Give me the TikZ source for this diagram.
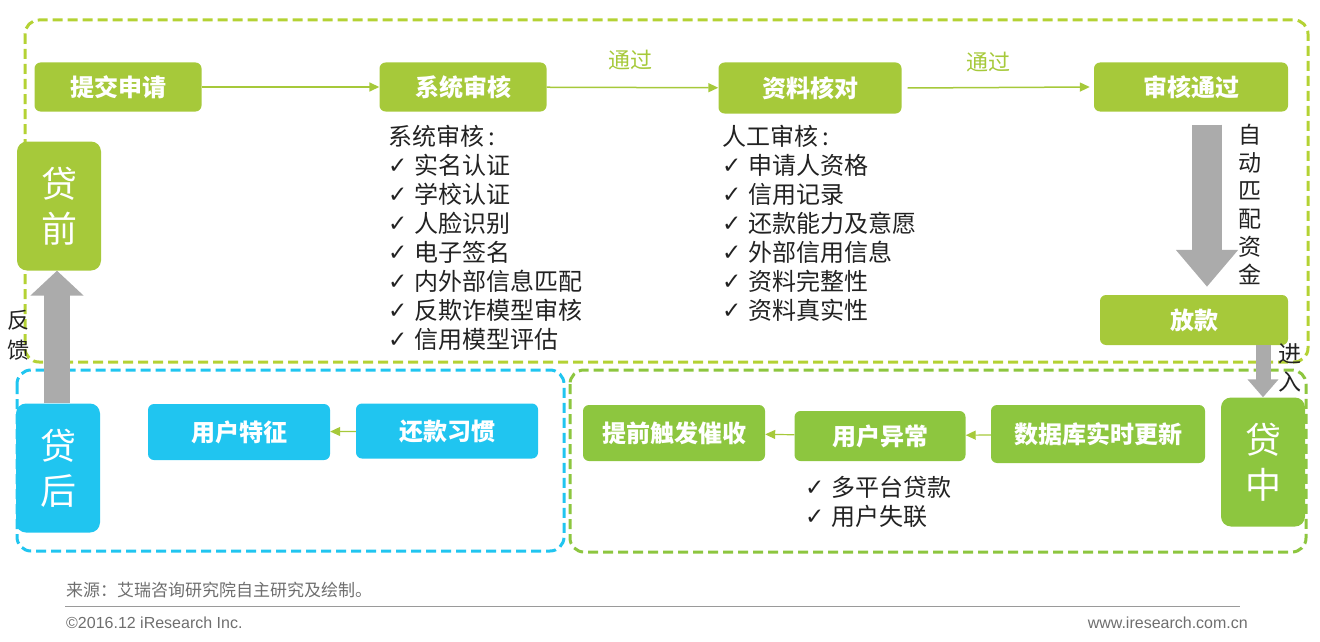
\documentclass[tikz,border=0pt]{standalone}
\usepackage{fontspec}
\setmainfont{Noto Sans CJK SC}
\newfontfamily\latinfont{Liberation Sans}
\newfontfamily\symfont{DejaVu Sans}
\usetikzlibrary{arrows.meta,calc}
\definecolor{lime}{RGB}{166,201,58}
\definecolor{limeframe}{RGB}{180,210,52}
\definecolor{grass}{RGB}{141,198,63}
\definecolor{sky}{RGB}{32,197,240}
\definecolor{ink}{RGB}{34,34,34}
\definecolor{shade}{RGB}{171,171,171}
\definecolor{foot}{RGB}{110,110,110}
\newcommand{\chk}{{\symfont\fontsize{23}{23}\selectfont\raisebox{1pt}{✓}}\hspace{7pt}}

\begin{document}
\begin{tikzpicture}[x=1pt,y=-1pt,>=Stealth]
\tikzset{box/.style={rounded corners=6pt,text=white,font=\bfseries\fontsize{24}{28}\selectfont,inner sep=0pt,minimum height=49pt},
  limebox/.style={box,fill=lime},grassbox/.style={box,fill=grass},skybox/.style={box,fill=sky},
  stage/.style={rounded corners=10pt,text=white,inner sep=0pt,align=center,minimum width=84pt,minimum height=129pt,font=\fontsize{36}{45}\selectfont},
  frame/.style={line width=3pt,dash pattern=on 10pt off 5pt,rounded corners=14pt},
  arr/.style={-{Triangle[length=10pt,width=9pt]},line width=1.5pt,draw=lime},
  bigarr/.style args={#1/#2/#3}{draw=shade,line width=#1,-{Triangle[width=#2,length=#3]}},
  list/.style={anchor=north west,align=left,text=ink,inner sep=0pt,font=\fontsize{24}{29}\selectfont},
  vtext/.style={text=ink,align=center,inner sep=0pt,font=\fontsize{23}{28}\selectfont},
  foottext/.style={text=foot,inner sep=0pt}}
\useasboundingbox (0,0) rectangle (1320,642);
% stage frames
\draw[frame,draw=limeframe] (25,20) rectangle (1308,362);
\draw[frame,draw=sky] (17,370) rectangle (564,551);
\draw[frame,draw=grass] (570,370) rectangle (1306,552);
% before the loan
\node[limebox,minimum width=167pt] (tj) at (118,87) {提交申请};
\node[limebox,minimum width=167pt] (xt) at (463,87) {系统审核};
\node[limebox,minimum width=183pt,minimum height=51pt] (zl) at (810,88) {资料核对};
\node[limebox,minimum width=194pt] (sh) at (1191,87) {审核通过};
\node[limebox,minimum width=188pt,minimum height=50pt] (fk) at (1194,320) {放款};
\node[stage,fill=lime] (dq) at (59,206) {贷\\前};
\draw[arr] (tj)--(xt);
\draw[arr] (xt)--(zl);
\draw[arr] ([xshift=6pt]zl.east)--([xshift=-4pt]sh.west);
\node[text=lime,font=\fontsize{22}{26}\selectfont] (tg1) at (630,60) {通过};
\node[text=lime,font=\fontsize{22}{26}\selectfont] (tg2) at (988,62) {通过};
\node[list] (xtl) at (388,125) {系统审核\,:\\\chk 实名认证\\\chk 学校认证\\\chk 人脸识别\\\chk 电子签名\\\chk 内外部信息匹配\\\chk 反欺诈模型审核\\\chk 信用模型评估};
\node[list] (zll) at (722,125) {人工审核\,:\\\chk 申请人资格\\\chk 信用记录\\\chk 还款能力及意愿\\\chk 外部信用信息\\\chk 资料完整性\\\chk 资料真实性};
\draw[bigarr={30pt/60pt/37pt}] ([xshift=16pt,yshift=-13pt]sh.south)--([xshift=13pt,yshift=8pt]fk.north);
\node[vtext] (zd) at (1250,204) {自\\动\\匹\\配\\资\\金};
% during the loan
\node[stage,fill=grass] (dz) at (1263,462) {贷\\中};
\node[grassbox,minimum width=214pt,minimum height=58pt] (sj) at (1098,434) {数据库实时更新};
\node[grassbox,minimum width=171pt,minimum height=50pt] (yc) at (880,436) {用户异常};
\node[grassbox,minimum width=182pt,minimum height=56pt] (tq) at (674,433) {提前触发催收};
\draw[arr,line width=1.2pt] (sj)--(yc);
\draw[arr,line width=1.2pt] (yc)--(tq);
\node[list] (ycl) at (805,476) {\chk 多平台贷款\\\chk 用户失联};
\draw[bigarr={15pt/30pt/18pt}] (dz.north |- fk.south)--(dz.north);
\node[vtext] (jr) at (1290,368) {进\\入};
% after the loan
\node[stage,fill=sky] (dh) at (58,468) {贷\\后};
\node[skybox,minimum width=182pt,minimum height=55pt] (hk) at (447,431) {还款习惯};
\node[skybox,minimum width=182pt,minimum height=56pt] (yt) at (239,432) {用户特征};
\draw[arr,line width=1.2pt] (hk)--(yt);
\draw[bigarr={26pt/52pt/25pt}] ([xshift=-1pt]dh.north)--([xshift=-2pt]dq.south);
\node[vtext,font=\fontsize{22}{30}\selectfont] (fb) at (19,335) {反\\馈};
% footer
\node[foottext,anchor=west,font=\fontsize{17}{19}\selectfont] (src) at (66,590) {来源：艾瑞咨询研究院自主研究及绘制。};
\draw[foot!70,line width=1pt] (65,606)--(1240,606);
\node[foottext,anchor=west,font=\latinfont\fontsize{16}{18}\selectfont] (cr) at (66,623) {©2016.12 iResearch Inc.};
\node[foottext,anchor=east,font=\latinfont\fontsize{16}{18}\selectfont] (web) at (1248,623) {www.iresearch.com.cn};
\end{tikzpicture}
\end{document}
